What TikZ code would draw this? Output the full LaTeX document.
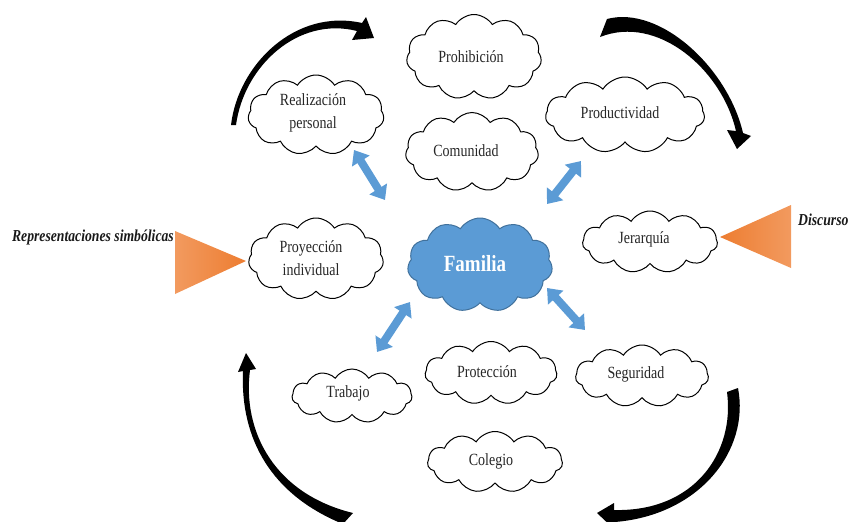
\documentclass[tikz,border=0pt]{standalone}
\usepackage{fontspec}
\usepackage{graphicx}
\setmainfont{Liberation Serif}
\usetikzlibrary{shapes.symbols,arrows.meta}
\definecolor{famblue}{HTML}{5B9BD5}
\definecolor{famedge}{HTML}{41719C}
\definecolor{orDark}{HTML}{ED7D31}
\definecolor{orLight}{HTML}{F29A5F}
\newcommand{\tallt}[1]{\scalebox{1}[1.22]{#1}}
\newcommand{\tallii}[2]{\scalebox{1}[1.22]{\begin{tabular}{@{}c@{}}#1\\#2\end{tabular}}}
\begin{document}
\begin{tikzpicture}[x=1pt,y=-1pt,
  cloudbox/.style={cloud, cloud puffs=11, cloud puff arc=115, cloud ignores aspect,
    draw=black, line width=1pt, fill=white, inner sep=0pt},
  cloudtext/.style={font=\fontsize{14}{19}\selectfont, text=black!85, align=center, inner sep=0pt},
  famcloud/.style={cloudbox, draw=famedge, fill=famblue},
  famtext/.style={font=\fontsize{19}{22}\selectfont\bfseries, text=white, inner sep=0pt},
  sidetext/.style={font=\fontsize{13.7}{16}\selectfont\bfseries\itshape, text=black!90, inner sep=0pt},
  biarrow/.style={draw=famblue, line width=8pt,
    {Triangle[width=20pt,length=13pt]}-{Triangle[width=20pt,length=13pt]}},
  blackarrow/.style={fill=black}
]
\useasboundingbox (0,0) rectangle (849,522);

% curved black arrows
\fill[blackarrow] (231,125) .. controls (238,65) and (295,8) .. (362,23)
  -- (366,17) -- (374,38) -- (352,40) -- (357,31)
  .. controls (298,16) and (244,66) .. (236,125) -- cycle;
\fill[blackarrow] (607,19) .. controls (660,5) and (728,68) .. (743,133)
  -- (751,136) -- (737,149) -- (727,130) -- (736,131)
  .. controls (722,70) and (658,14) .. (600,37) -- cycle;
\fill[blackarrow] (343,524) .. controls (272,495) and (240,440) .. (243,371)
  -- (238,372) -- (246,353) -- (256,369) -- (250,370)
  .. controls (242,432) and (275,494) .. (353,513) -- cycle;
\fill[blackarrow] (738,388) .. controls (750,450) and (700,515) .. (615,522)
  -- (615,530) -- (597,513) -- (614,503) -- (614,510)
  .. controls (695,512) and (735,452) .. (727,392) -- cycle;

% orange triangles
\shade[left color=orLight, right color=orDark] (175,231) -- (175,294) -- (246,261) -- cycle;
\shade[left color=orDark, right color=orLight] (720,237) -- (791,205) -- (791,268) -- cycle;
\node[sidetext, anchor=east] (repr) at (174,237) {\tallt{Representaciones simbólicas}};
\node[sidetext, anchor=west] (disc) at (798,220) {\tallt{Discurso}};

% clouds
\node[cloudbox, minimum width=135pt, minimum height=85pt] (prohib) at (474,57) {};
\node[cloudtext] (prohibT) at (471,57) {\tallt{Prohibición}};
\node[cloudbox, minimum width=136pt, minimum height=80pt] (realiz) at (316,115) {};
\node[cloudtext] (realizT) at (313,112) {\tallii{Realización}{personal}};
\node[cloudbox, minimum width=133pt, minimum height=79pt] (comun) at (472,152) {};
\node[cloudtext] (comunT) at (466,151) {\tallt{Comunidad}};
\node[cloudbox, minimum width=159pt, minimum height=76pt] (produc) at (625,115) {};
\node[cloudtext] (producT) at (620,113) {\tallt{Productividad}};
\node[cloudbox, minimum width=135pt, minimum height=82pt] (proyec) at (316,259) {};
\node[cloudtext] (proyecT) at (311,259) {\tallii{Proyección}{individual}};
\node[famcloud, minimum width=145pt, minimum height=94pt] (familia) at (480,265) {};
\node[famtext] (familiaT) at (475,264) {\tallt{Familia}};
\node[cloudbox, minimum width=135pt, minimum height=62pt] (jerarq) at (650,242) {};
\node[cloudtext] (jerarqT) at (644,239) {\tallt{Jerarquía}};
\node[cloudbox, minimum width=120pt, minimum height=54pt] (trabajo) at (352,396) {};
\node[cloudtext] (trabajoT) at (348,393) {\tallt{Trabajo}};
\node[cloudbox, minimum width=132pt, minimum height=63pt] (protec) at (491,373) {};
\node[cloudtext] (protecT) at (487,372) {\tallt{Protección}};
\node[cloudbox, minimum width=133pt, minimum height=62pt] (segur) at (642,376) {};
\node[cloudtext] (segurT) at (636,374) {\tallt{Seguridad}};
\node[cloudbox, minimum width=135pt, minimum height=61pt] (colegio) at (495,462) {};
\node[cloudtext] (colegioT) at (491,461) {\tallt{Colegio}};

% blue double arrows
\coordinate (a1s) at (354,150); \coordinate (a1e) at (385,200);
\coordinate (a2s) at (581,161); \coordinate (a2e) at (547,204);
\coordinate (a3s) at (410,302); \coordinate (a3e) at (377,352);
\coordinate (a4s) at (547,288); \coordinate (a4e) at (585,330);
\draw[biarrow] (a1s) -- (a1e);
\draw[biarrow] (a2s) -- (a2e);
\draw[biarrow] (a3s) -- (a3e);
\draw[biarrow] (a4s) -- (a4e);
\end{tikzpicture}
\end{document}
